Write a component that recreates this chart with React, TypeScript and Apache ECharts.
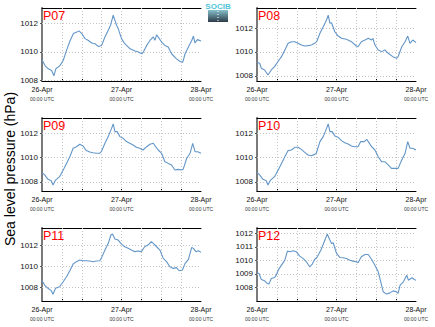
import React, { useEffect, useRef } from 'react';
import * as echarts from 'echarts';

const panelNames = ['P07', 'P08', 'P09', 'P10', 'P11', 'P12'];
const dayHours = [0, 24, 48];
const dayLabels = ['26-Apr', '27-Apr', '28-Apr'];
const gridHours = [6, 12, 18, 24, 30, 36, 42];
const timeLabel = '00:00 UTC';
const yTitle = 'Sea level pressure (hPa)';

const p07Hours = [0, 0.9, 1.9, 2.9, 3.6, 4.2, 5.4, 6.4, 7.4, 8.5, 9.5, 10.5, 11.2, 12, 13, 14, 15, 16, 17, 18, 19, 20, 20.7, 21.5, 22, 22.5, 23, 24, 25, 26.6, 28.1, 29.1, 30.1, 30.6, 31.6, 32.6, 33.6, 34.1, 34.6, 35.4, 36.1, 37.1, 38.1, 39.1, 40.6, 41.7, 42.5, 43.2, 44.2, 45.2, 45.7, 46.2, 46.9, 48];
const p07Values = [1009.43, 1009.02, 1008.79, 1008.67, 1008.3, 1008.8, 1009.02, 1009.38, 1010.1, 1010.8, 1011.29, 1011.4, 1011.48, 1011.29, 1010.93, 1010.8, 1010.62, 1010.57, 1010.38, 1010.45, 1011.05, 1011.52, 1011.88, 1012.6, 1012.24, 1011.88, 1011.64, 1010.93, 1010.57, 1010.21, 1010.05, 1009.98, 1009.86, 1009.98, 1010.45, 1010.8, 1011.05, 1010.81, 1011.21, 1010.93, 1010.69, 1010.45, 1010.33, 1009.86, 1009.5, 1009.31, 1009.26, 1009.86, 1010.33, 1010.8, 1011.1, 1010.62, 1010.86, 1010.76];

const p08Hours = [0, 0.8, 1.3, 2.3, 3.3, 4.3, 5.3, 6.3, 7.4, 8.4, 9.4, 10.4, 11.4, 12.4, 13.4, 14.4, 15.4, 16.4, 17.4, 18, 19, 20, 21, 21.5, 22, 22.5, 23.5, 24.5, 25.5, 27, 28.5, 30, 30.5, 31.5, 32.6, 33.6, 34.6, 35, 35.6, 36.6, 37.6, 38.6, 39.6, 41, 42.1, 42.6, 43.7, 44.7, 45.5, 46.2, 47, 48];
const p08Values = [1009.14, 1009.06, 1008.64, 1008.5, 1008.08, 1008.5, 1008.78, 1009.19, 1009.61, 1010.17, 1010.72, 1010.86, 1010.86, 1010.72, 1010.58, 1010.5, 1010.53, 1010.58, 1010.72, 1010.86, 1011.56, 1012.11, 1012.67, 1013.08, 1012.4, 1012.44, 1011.69, 1011.33, 1011.14, 1011.06, 1010.86, 1010.5, 1010.44, 1010.86, 1011.0, 1011.14, 1011.0, 1011.14, 1010.58, 1010.17, 1010.03, 1010.17, 1009.89, 1009.61, 1009.47, 1009.61, 1010.44, 1010.86, 1011.33, 1010.72, 1011.0, 1010.78];

const p09Hours = [0, 0.8, 1.8, 2.8, 3.3, 4.1, 5.3, 6.4, 7.4, 8.4, 9.4, 10.4, 11.4, 12.4, 13.4, 14.4, 15.4, 16.4, 17.4, 17.9, 19, 20, 21, 21.5, 22, 22.7, 23.5, 24.5, 25.5, 26.5, 27.5, 28.5, 29.5, 30.5, 31.6, 32.6, 33.6, 34.3, 35.1, 36.1, 37.1, 38.1, 39.1, 40.1, 41.1, 42.1, 42.6, 43.7, 44.7, 45.5, 46.2, 47, 48];
const p09Values = [1008.77, 1008.58, 1008.22, 1008.11, 1007.75, 1008.16, 1008.44, 1008.99, 1009.53, 1010.08, 1010.77, 1010.9, 1011.1, 1010.96, 1010.58, 1010.47, 1010.41, 1010.36, 1010.36, 1010.49, 1011.18, 1011.73, 1012.41, 1012.77, 1012.14, 1012.14, 1011.73, 1011.59, 1011.32, 1011.18, 1011.04, 1010.85, 1010.77, 1010.63, 1010.9, 1011.1, 1011.18, 1010.9, 1010.63, 1010.36, 1009.67, 1009.53, 1009.4, 1008.99, 1009.04, 1008.99, 1009.04, 1009.95, 1010.36, 1011.18, 1010.49, 1010.49, 1010.36];

const p10Hours = [0, 0.8, 1.8, 2.8, 3.3, 4.1, 5.3, 6.4, 7.4, 8.4, 9.4, 10.4, 11.4, 12.4, 13.4, 14.4, 15.4, 16.4, 17.4, 17.9, 19, 20, 21, 21.5, 22, 22.7, 23.5, 24.5, 25.5, 26.5, 27.5, 28.5, 29.5, 30.5, 31.3, 32.4, 33.1, 33.6, 34.6, 35.6, 36.6, 37.6, 38.6, 39.6, 40.6, 41.6, 42.6, 43.7, 44.7, 45.5, 46.2, 47, 48];
const p10Values = [1008.79, 1008.58, 1008.22, 1008.11, 1007.75, 1008.16, 1008.44, 1008.99, 1009.53, 1010.08, 1010.58, 1010.63, 1010.85, 1010.85, 1010.68, 1010.44, 1010.22, 1010.16, 1010.27, 1010.36, 1011.32, 1011.73, 1012.41, 1012.77, 1012.14, 1012.14, 1011.78, 1011.67, 1011.4, 1011.23, 1011.12, 1010.96, 1010.9, 1010.9, 1011.32, 1011.32, 1011.51, 1011.32, 1010.9, 1010.63, 1010.08, 1009.67, 1009.67, 1009.4, 1009.12, 1009.12, 1009.12, 1009.81, 1010.36, 1011.32, 1010.77, 1010.77, 1010.63];

const p11Hours = [0, 0.8, 1.8, 2.8, 3.3, 4.1, 5.3, 6.4, 7.4, 8.4, 9.4, 10.4, 11.4, 12.4, 13.4, 14.4, 15.4, 16.4, 17.4, 17.9, 19, 20, 20.8, 21.3, 22, 23, 24, 25, 26, 27, 28, 29, 30, 31, 32, 33, 33.6, 34.6, 35.6, 36.6, 37.6, 38.6, 39.6, 40.6, 41.4, 42.4, 43.2, 44.2, 45.2, 45.7, 46.5, 47.2, 48];
const p11Values = [1008.66, 1008.25, 1007.94, 1007.72, 1007.38, 1007.94, 1008.09, 1008.56, 1009.03, 1009.59, 1010.22, 1010.44, 1010.59, 1010.53, 1010.53, 1010.5, 1010.44, 1010.5, 1010.53, 1010.75, 1011.53, 1012.16, 1012.94, 1013.03, 1012.56, 1012.47, 1012.09, 1011.84, 1011.69, 1011.53, 1011.38, 1011.44, 1011.38, 1011.84, 1012.0, 1012.31, 1012.16, 1011.84, 1011.53, 1010.75, 1010.44, 1009.97, 1009.81, 1009.88, 1009.59, 1009.66, 1010.28, 1010.66, 1011.78, 1011.69, 1011.38, 1011.47, 1011.31];

const p12Hours = [0, 0.6, 1.3, 2.3, 3.1, 3.6, 4.3, 5.3, 5.8, 6.4, 7.4, 8.4, 9.2, 9.9, 10.9, 11.9, 12.9, 13.9, 14.9, 15.9, 16.7, 17.4, 18.2, 19.3, 20.3, 21.2, 22, 22.5, 23, 24, 25, 26, 27, 28, 29, 30, 30.5, 31.5, 32.6, 33.6, 34.6, 35.6, 36.6, 37.6, 38.1, 39.1, 40.1, 41.1, 42.1, 42.6, 43.2, 44.2, 45.2, 45.7, 46.8, 47.5, 48];
const p12Values = [1009.09, 1009.04, 1008.59, 1008.49, 1008.3, 1008.25, 1008.67, 1008.74, 1008.91, 1009.28, 1009.65, 1010.02, 1010.69, 1010.64, 1010.72, 1010.64, 1010.32, 1010.15, 1009.9, 1009.53, 1009.73, 1010.07, 1010.27, 1010.77, 1011.38, 1011.95, 1011.51, 1011.26, 1011.31, 1010.52, 1010.22, 1010.2, 1010.15, 1010.02, 1009.95, 1009.9, 1009.83, 1010.27, 1010.44, 1010.44, 1010.07, 1009.65, 1009.16, 1008.17, 1007.68, 1007.51, 1007.6, 1007.75, 1007.68, 1007.56, 1008.17, 1008.42, 1008.91, 1008.54, 1008.72, 1008.59, 1008.54];

const seriesHours = [p07Hours, p08Hours, p09Hours, p10Hours, p11Hours, p12Hours];
const seriesValues = [p07Values, p08Values, p09Values, p10Values, p11Values, p12Values];

const yMins = [1007.93, 1007.58, 1007.26, 1007.26, 1006.75, 1007.0];
const yMaxs = [1013.1, 1013.67, 1013.26, 1013.26, 1013.6, 1012.4];
const yTicksEven = [1008, 1010, 1012];
const yTicksP12 = [1008, 1009, 1010, 1011, 1012];
const yTickSets = [yTicksEven, yTicksEven, yTicksEven, yTicksEven, yTicksEven, yTicksP12];

const FONT = 'Liberation Sans, Arial, sans-serif';
const LINE_COLOR = '#6396c8';
const GRID_LINE = { color: '#c4c4c4', type: [1, 2] as number[], width: 1 };

export default function App() {
  const ref = useRef<HTMLDivElement>(null);
  useEffect(() => {
    if (!ref.current) return;
    const chart = echarts.init(ref.current, null, { renderer: 'svg' });
    const lefts = [42, 257];
    const tops = [8, 118, 228];
    const W = 159;
    const H = 73;
    const grids: any[] = [];
    const xAxes: any[] = [];
    const yAxes: any[] = [];
    const series: any[] = [];
    const titles: any[] = [];
    panelNames.forEach((name, i) => {
      const left = lefts[i % 2];
      const top = tops[Math.floor(i / 2)];
      grids.push({ left, top, width: W, height: H, containLabel: false });
      titles.push({
        text: name,
        left: left + 1,
        top: top + 1,
        padding: 0,
        textStyle: { color: '#ff0000', fontSize: 12.5, fontWeight: 'normal', fontFamily: FONT },
      });
      xAxes.push({
        type: 'value',
        gridIndex: i,
        min: 0,
        max: 48,
        axisLine: { show: true, lineStyle: { color: '#000', width: 1 } },
        axisTick: { show: true, inside: true, length: 2, customValues: gridHours, lineStyle: { color: '#000' } },
        splitLine: { show: false },
        axisLabel: {
          show: true,
          margin: 3,
          customValues: dayHours,
          formatter: (v: number) => {
            const k = dayHours.indexOf(v);
            if (k < 0) return '';
            return `{d|${dayLabels[k]}}\n{t|${timeLabel}}`;
          },
          rich: {
            d: { fontSize: 7, color: '#111', fontFamily: FONT, lineHeight: 10 },
            t: { fontSize: 5, color: '#333', fontFamily: FONT, lineHeight: 10 },
          },
        },
      });
      xAxes.push({
        type: 'value',
        gridIndex: i,
        position: 'top',
        min: 0,
        max: 48,
        axisLine: { show: true, lineStyle: { color: '#000', width: 1 } },
        axisTick: { show: false },
        axisLabel: { show: false },
        splitLine: { show: false },
      });
      yAxes.push({
        type: 'value',
        gridIndex: i,
        min: yMins[i],
        max: yMaxs[i],
        axisLine: { show: true, lineStyle: { color: '#000', width: 1 } },
        axisTick: { show: false, customValues: yTickSets[i] },
        splitLine: { show: false },
        axisLabel: {
          show: true,
          margin: 4,
          customValues: yTickSets[i],
          formatter: (v: number) => String(v),
          fontSize: 8,
          color: '#111',
          fontFamily: FONT,
        },
      });
      yAxes.push({
        type: 'value',
        gridIndex: i,
        position: 'right',
        min: yMins[i],
        max: yMaxs[i],
        axisLine: { show: true, lineStyle: { color: '#7a7a7a', width: 2 } },
        axisTick: { show: true, inside: true, length: 2, customValues: yTickSets[i], lineStyle: { color: '#555' } },
        axisLabel: { show: false },
        splitLine: { show: false },
      });
      series.push({
        type: 'line',
        xAxisIndex: i * 2,
        yAxisIndex: i * 2,
        data: seriesHours[i].map((h, j) => [h, seriesValues[i][j]]),
        showSymbol: false,
        symbol: 'none',
        lineStyle: { color: LINE_COLOR, width: 1.1 },
        silent: true,
        z: 3,
        markLine: {
          silent: true,
          symbol: ['none', 'none'],
          label: { show: false },
          lineStyle: GRID_LINE,
          emphasis: { disabled: true },
          z: 1,
          data: [
            ...yTickSets[i].map((v) => ({ yAxis: v })),
            ...gridHours.map((h) => ({ xAxis: h })),
          ],
        },
      });
    });
    chart.setOption({
      animation: false,
      backgroundColor: '#fff',
      title: titles,
      grid: grids,
      xAxis: xAxes,
      yAxis: yAxes,
      series,
      graphic: [
        {
          type: 'text',
          x: 10,
          y: 169,
          rotation: Math.PI / 2,
          style: {
            text: yTitle,
            fontSize: 14,
            fontFamily: FONT,
            fill: '#000',
            textAlign: 'center',
            textVerticalAlign: 'middle',
          },
        },
        {
          type: 'group',
          x: 208,
          y: 2,
          children: [
            {
              type: 'text',
              x: 10,
              y: 0,
              style: { text: 'SOCIB', fontSize: 8, fontFamily: FONT, fill: '#4fc4d8', textAlign: 'center', fontWeight: 'bold' },
            },
            {
              type: 'rect',
              shape: { x: 0, y: 8, width: 20, height: 12 },
              style: {
                fill: new echarts.graphic.LinearGradient(0, 0, 0, 1, [
                  { offset: 0, color: '#86c0cc' },
                  { offset: 1, color: '#2c3a48' },
                ]),
              },
            },
            {
              type: 'line',
              shape: { x1: 10, y1: 9, x2: 10, y2: 19 },
              style: { stroke: '#ffffff', lineWidth: 1, lineDash: [1, 2] },
            },
          ],
        },
      ],
    });
    return () => chart.dispose();
  }, []);
  return (
    <div
      ref={ref}
      style={{ position: 'absolute', left: 0, top: 0, width: 435, height: 327, background: '#fff' }}
    />
  );
}
